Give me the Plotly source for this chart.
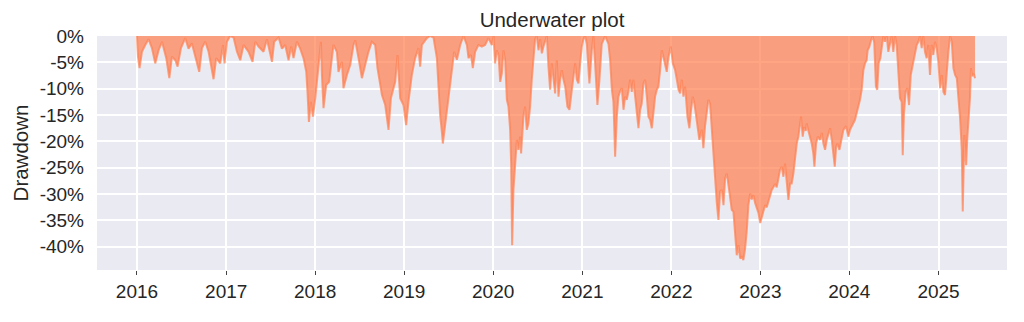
import pandas as pd
import plotly.graph_objects as go

# Drawdown (%), time in decimal years
seg16_t = [2016.000, 2016.011, 2016.029, 2016.056, 2016.093, 2016.130, 2016.168, 2016.205, 2016.243, 2016.281,
           2016.329, 2016.363, 2016.393, 2016.430, 2016.456, 2016.494, 2016.542, 2016.579, 2016.617, 2016.655,
           2016.699, 2016.730, 2016.767, 2016.804, 2016.860, 2016.890, 2016.935, 2016.966, 2016.983]
seg16_dd = [0, -3.9, -6.1, -3.0, -1.7, -0.6, -2.3, -5.2, -2.7, -1.1,
            -4.2, -8.0, -3.9, -4.6, -5.8, -2.3, -0.4, -2.4, -1.4, -3.9,
            -6.8, -2.3, -1.1, -3.0, -8.2, -4.2, -5.2, -1.7, -5.2]

seg17_t = [2017.010, 2017.047, 2017.085, 2017.123, 2017.160, 2017.197, 2017.253, 2017.298, 2017.328, 2017.365,
           2017.421, 2017.460, 2017.516, 2017.541, 2017.590, 2017.628, 2017.665, 2017.702, 2017.732, 2017.758,
           2017.796, 2017.833, 2017.870, 2017.901, 2017.915, 2017.931, 2017.953, 2017.976]
seg17_dd = [-1.1, 0, -0.3, -3.0, -4.6, -1.7, -3.0, -4.9, -1.1, -2.0,
            -3.0, -0.6, -4.9, -1.1, -0.3, -2.4, -1.7, -4.6, -2.0, -4.2,
            -1.1, -2.4, -4.2, -6.8, -10.6, -16.3, -12.5, -15.3]

seg18_t = [2018.002, 2018.021, 2018.039, 2018.066, 2018.077, 2018.095, 2018.125, 2018.159, 2018.189, 2018.207,
           2018.245, 2018.263, 2018.302, 2018.319, 2018.358, 2018.395, 2018.432, 2018.451, 2018.488, 2018.526,
           2018.563, 2018.600, 2018.638, 2018.675, 2018.701, 2018.751, 2018.788, 2018.825, 2018.852, 2018.900,
           2018.926, 2018.956, 2018.993]
seg18_dd = [-11.9, -8.7, -4.9, -1.1, -7.4, -13.7, -9.3, -8.7, -4.2, -1.7,
            -3.0, -6.8, -4.9, -9.9, -7.4, -5.5, -1.7, -0.8, -4.2, -8.0,
            -5.5, -3.0, -1.1, -1.7, -6.1, -11.2, -13.1, -17.8, -11.8, -8.7,
            -3.6, -11.8, -13.1]

seg19_t = [2019.023, 2019.049, 2019.087, 2019.124, 2019.161, 2019.180, 2019.200, 2019.225, 2019.256, 2019.293,
           2019.330, 2019.368, 2019.386, 2019.405, 2019.424, 2019.435, 2019.461, 2019.498, 2019.537, 2019.562,
           2019.593, 2019.630, 2019.667, 2019.705, 2019.723, 2019.750, 2019.772, 2019.798, 2019.835, 2019.873,
           2019.910, 2019.947, 2019.986]
seg19_dd = [-16.9, -12.5, -7.4, -4.2, -2.3, -5.8, -1.7, -1.1, -0.4, 0,
            -0.3, -4.2, -10.6, -15.0, -18.2, -20.4, -16.9, -11.8, -6.8, -3.0,
            -4.5, -1.7, 0, -1.7, -4.2, -3.6, -6.1, -3.0, -1.7, -2.0,
            -1.7, -0.4, -1.7]

seg20_t = [2020.004, 2020.022, 2020.042, 2020.060, 2020.079, 2020.098, 2020.116, 2020.135, 2020.154, 2020.172,
           2020.191, 2020.202, 2020.213, 2020.228, 2020.247, 2020.266, 2020.284, 2020.303, 2020.314, 2020.340,
           2020.359, 2020.378, 2020.396, 2020.415, 2020.434, 2020.452, 2020.471, 2020.490, 2020.509, 2020.528,
           2020.547, 2020.565, 2020.603, 2020.621, 2020.640, 2020.659, 2020.677, 2020.696, 2020.715, 2020.734,
           2020.752, 2020.771, 2020.790, 2020.809, 2020.834, 2020.857, 2020.884, 2020.902, 2020.921, 2020.940,
           2020.958, 2020.977, 2020.996]
seg20_dd = [0, -5.2, -2.7, -3.6, -8.7, -7.1, -2.7, -4.6, -12.1, -13.4,
            -17.8, -24.2, -39.7, -29.2, -24.2, -19.7, -21.6, -19.1, -22.3, -15.3,
            -13.4, -17.8, -16.6, -13.4, -8.3, -5.2, -0.6, 0, -2.7, -0.6,
            -3.3, -2.0, 0, -5.8, -10.2, -5.2, -8.3, -10.9, -4.6, -11.5,
            -8.3, -6.5, -8.3, -9.6, -13.4, -14.0, -10.2, -7.7, -5.2, -8.3,
            -9.0, -5.2, -2.0]

seg21_t = [2021.014, 2021.033, 2021.052, 2021.081, 2021.108, 2021.126, 2021.145, 2021.171, 2021.194, 2021.220,
           2021.258, 2021.295, 2021.314, 2021.333, 2021.351, 2021.370, 2021.389, 2021.407, 2021.426, 2021.445,
           2021.464, 2021.482, 2021.501, 2021.519, 2021.538, 2021.557, 2021.575, 2021.594, 2021.613, 2021.632,
           2021.651, 2021.669, 2021.688, 2021.707, 2021.726, 2021.744, 2021.763, 2021.782, 2021.800, 2021.819,
           2021.838, 2021.856, 2021.875, 2021.894, 2021.912, 2021.931, 2021.950, 2021.969, 2021.995]
seg21_dd = [-0.6, 0, -1.5, -9.0, -2.7, 0, -5.2, -13.1, -8.3, -1.5,
            0, -1.5, -4.6, -10.2, -12.5, -22.9, -15.3, -11.5, -10.5, -9.9,
            -14.0, -11.5, -12.1, -10.6, -8.3, -10.6, -8.3, -11.5, -14.0, -17.5,
            -14.0, -12.8, -9.0, -8.3, -11.5, -15.3, -15.9, -17.5, -14.6, -11.5,
            -10.2, -9.6, -6.5, -2.7, -4.0, -5.2, -6.8, -4.0, -2.0]

seg22_t = [2022.018, 2022.044, 2022.063, 2022.082, 2022.100, 2022.119, 2022.137, 2022.156, 2022.182, 2022.204,
           2022.223, 2022.242, 2022.260, 2022.279, 2022.294, 2022.316, 2022.343, 2022.361, 2022.380, 2022.399,
           2022.417, 2022.436, 2022.455, 2022.474, 2022.493, 2022.512, 2022.530, 2022.549, 2022.568, 2022.587,
           2022.605, 2022.624, 2022.643, 2022.661, 2022.680, 2022.698, 2022.717, 2022.736, 2022.755, 2022.774,
           2022.793, 2022.810, 2022.829, 2022.848, 2022.867, 2022.886, 2022.905, 2022.923, 2022.942, 2022.961,
           2022.980, 2022.999]
seg22_dd = [-5.2, -6.5, -8.3, -10.2, -10.9, -8.3, -11.5, -9.6, -15.3, -17.5,
            -14.0, -11.5, -12.8, -15.3, -16.5, -19.7, -17.8, -21.3, -17.1, -14.6,
            -12.1, -12.8, -17.8, -22.9, -27.3, -31.7, -34.9, -29.5, -29.2, -32.1,
            -27.0, -26.1, -28.3, -30.2, -33.0, -33.3, -37.1, -41.6, -39.7, -42.2,
            -41.9, -42.5, -40.5, -37.1, -32.1, -29.9, -31.0, -30.2, -31.7, -32.5,
            -33.6, -35.5]

seg23_t = [2023.017, 2023.035, 2023.054, 2023.073, 2023.091, 2023.110, 2023.129, 2023.147, 2023.166, 2023.185,
           2023.204, 2023.222, 2023.241, 2023.260, 2023.278, 2023.297, 2023.316, 2023.335, 2023.353, 2023.372,
           2023.391, 2023.410, 2023.428, 2023.447, 2023.458, 2023.477, 2023.492, 2023.511, 2023.522, 2023.540,
           2023.559, 2023.578, 2023.596, 2023.608, 2023.627, 2023.646, 2023.672, 2023.691, 2023.709, 2023.728,
           2023.747, 2023.765, 2023.784, 2023.803, 2023.821, 2023.837, 2023.852, 2023.866, 2023.889, 2023.908,
           2023.934, 2023.964, 2023.989]
seg23_dd = [-34.3, -33.3, -32.1, -32.5, -31.3, -29.9, -29.2, -28.7, -28.1, -28.7,
            -27.3, -25.4, -24.8, -26.7, -24.2, -27.3, -31.1, -28.0, -28.0, -26.1,
            -23.0, -20.4, -19.1, -15.9, -15.3, -19.1, -17.3, -18.0, -16.6, -18.0,
            -19.1, -20.4, -22.3, -24.8, -20.4, -19.1, -19.7, -18.4, -20.4, -21.6,
            -19.7, -18.4, -17.5, -19.7, -22.3, -24.8, -21.0, -20.4, -21.6, -19.7,
            -17.8, -17.1, -19.1]

seg24_t = [2024.008, 2024.027, 2024.045, 2024.064, 2024.083, 2024.102, 2024.120, 2024.139, 2024.158, 2024.176,
           2024.195, 2024.206, 2024.224, 2024.244, 2024.262, 2024.280, 2024.299, 2024.314, 2024.329, 2024.349,
           2024.367, 2024.382, 2024.401, 2024.420, 2024.438, 2024.457, 2024.476, 2024.494, 2024.513, 2024.532,
           2024.550, 2024.569, 2024.588, 2024.600, 2024.614, 2024.633, 2024.652, 2024.671, 2024.690, 2024.718,
           2024.738, 2024.757, 2024.775, 2024.794, 2024.813, 2024.831, 2024.850, 2024.869, 2024.887, 2024.906,
           2024.925, 2024.943, 2024.962, 2024.981]
seg24_dd = [-17.8, -17.1, -16.5, -15.9, -14.6, -13.4, -12.1, -10.2, -6.5, -5.2,
            -4.6, -2.7, -2.1, -0.8, 0, -1.3, -9.6, -10.2, -5.2, -4.2,
            -2.3, 0, -1.1, 0, -3.0, -1.7, 0, -3.0, 0, -1.7,
            -8.0, -11.8, -12.5, -22.6, -14.6, -10.6, -9.9, -13.1, -7.4, -4.9,
            -3.6, -1.7, -1.1, 0, -2.3, 0, -3.0, -4.2, -1.7, -7.4,
            -1.7, -3.6, -1.1, -2.3]

seg25_t = [2025.000, 2025.019, 2025.038, 2025.057, 2025.075, 2025.094, 2025.113, 2025.132, 2025.151, 2025.169,
           2025.188, 2025.207, 2025.226, 2025.244, 2025.263, 2025.274, 2025.292, 2025.300, 2025.312, 2025.325,
           2025.340, 2025.355, 2025.366, 2025.381, 2025.400, 2025.412]
seg25_dd = [-4.9, -9.9, -7.4, -10.6, -11.2, -6.1, -3.0, 0, -1.1, -6.1,
            -7.4, -8.0, -11.8, -15.6, -21.6, -33.3, -18.8, -21.3, -24.5, -19.4,
            -15.6, -11.8, -6.1, -7.6, -7.2, -8.0]

year_ticks = [2016, 2017, 2018, 2019, 2020, 2021, 2022, 2023, 2024, 2025]
y_tick_vals = [0, -5, -10, -15, -20, -25, -30, -35, -40]
y_tick_text = ["0%", "-5%", "-10%", "-15%", "-20%", "-25%", "-30%", "-35%", "-40%"]

segments_t = [seg16_t, seg17_t, seg18_t, seg19_t, seg20_t, seg21_t, seg22_t, seg23_t, seg24_t, seg25_t]
segments_dd = [seg16_dd, seg17_dd, seg18_dd, seg19_dd, seg20_dd, seg21_dd, seg22_dd, seg23_dd, seg24_dd, seg25_dd]

t_all, dd_all = [], []
for ts, ds in zip(segments_t, segments_dd):
    n = min(len(ts), len(ds))
    t_all += ts[:n]
    dd_all += ds[:n]

base = pd.Timestamp("2016-01-01")


def to_date(y):
    return base + pd.Timedelta(days=(y - 2016) * 365.25)


dates = [to_date(y) for y in t_all]
coral_a = "rgba(255,127,80,0.7)"
text_col = "#262626"
font_fam = "Arial, Liberation Sans, sans-serif"

fig = go.Figure()
fig.add_trace(go.Scatter(
    x=dates, y=dd_all, mode="lines", fill="tozeroy",
    fillcolor=coral_a, line=dict(color=coral_a, width=2),
    hoverinfo="skip", showlegend=False,
))

fig.update_layout(
    width=1024, height=322,
    margin=dict(l=97, r=17, t=36, b=52),
    paper_bgcolor="white", plot_bgcolor="#EAEAF2",
    font=dict(family=font_fam, color=text_col, size=19),
    title=dict(text="Underwater plot", x=0.5, xref="paper", xanchor="center",
               y=1 - 20 / 322, yref="container", yanchor="middle",
               font=dict(size=20.5, color=text_col)),
    showlegend=False,
)
fig.update_xaxes(
    type="date", range=[to_date(2015.551), to_date(2025.771)],
    tickvals=[pd.Timestamp(f"{y}-01-01") for y in year_ticks],
    ticktext=[str(y) for y in year_ticks],
    showgrid=True, gridcolor="white", gridwidth=1.5,
    ticks="outside", ticklen=4, tickwidth=1.2, tickcolor="#444",
    zeroline=False, showline=False, tickfont=dict(size=19, color=text_col),
)
fig.update_yaxes(
    range=[-44.4, 0], tickvals=y_tick_vals, ticktext=y_tick_text,
    showgrid=True, gridcolor="white", gridwidth=1.5,
    zeroline=False, showline=False, ticks="",
    ticklabelstandoff=12,
    tickfont=dict(size=19, color=text_col),
    title=dict(text="Drawdown", font=dict(size=20.5, color=text_col), standoff=5),
)

fig.write_html("out.html")
